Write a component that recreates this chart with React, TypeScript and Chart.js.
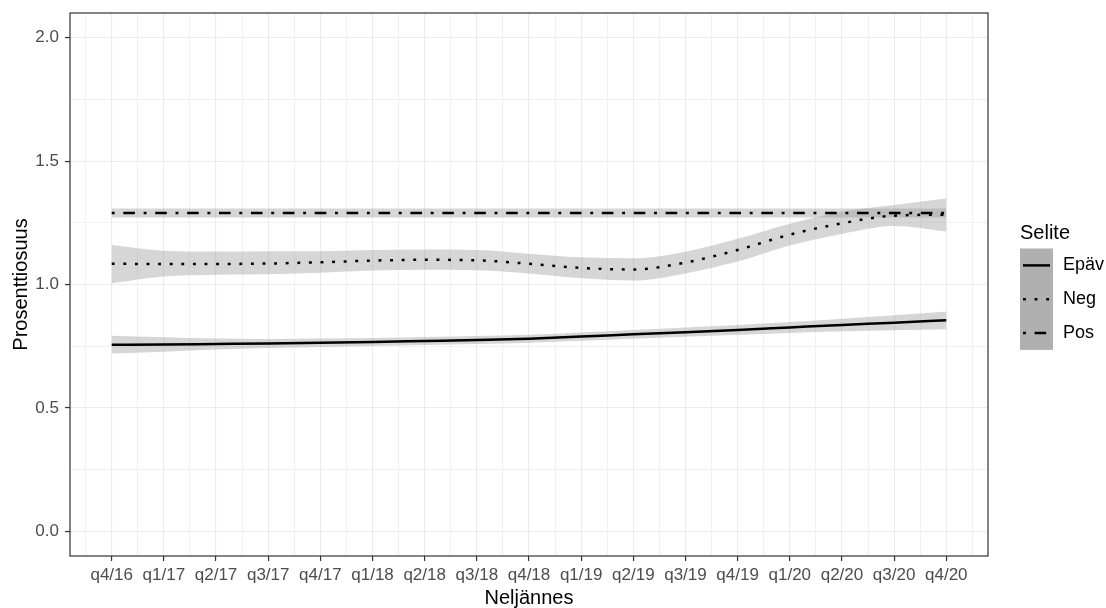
import React, { useEffect, useRef } from "react";
import { Chart, registerables } from "chart.js";

Chart.register(...registerables);

const categories = [
  "q4/16", "q1/17", "q2/17", "q3/17", "q4/17", "q1/18", "q2/18", "q3/18", "q4/18",
  "q1/19", "q2/19", "q3/19", "q4/19", "q1/20", "q2/20", "q3/20", "q4/20",
];

const epavMid = [0.756, 0.757, 0.759, 0.761, 0.764, 0.767, 0.771, 0.775, 0.780, 0.789, 0.798, 0.807, 0.816, 0.826, 0.836, 0.845, 0.855];
const epavLow = [0.720, 0.728, 0.737, 0.743, 0.747, 0.751, 0.755, 0.759, 0.764, 0.772, 0.780, 0.788, 0.796, 0.804, 0.811, 0.815, 0.819];
const epavHigh = [0.792, 0.786, 0.781, 0.779, 0.781, 0.783, 0.787, 0.791, 0.796, 0.806, 0.816, 0.826, 0.836, 0.848, 0.861, 0.875, 0.891];

const negMid = [1.084, 1.083, 1.083, 1.085, 1.090, 1.097, 1.100, 1.098, 1.084, 1.067, 1.061, 1.089, 1.140, 1.202, 1.248, 1.279, 1.283];
const negLow = [1.005, 1.032, 1.040, 1.042, 1.048, 1.057, 1.060, 1.058, 1.045, 1.025, 1.016, 1.045, 1.093, 1.158, 1.205, 1.237, 1.215];
const negHigh = [1.160, 1.137, 1.134, 1.135, 1.135, 1.140, 1.142, 1.140, 1.125, 1.110, 1.106, 1.133, 1.185, 1.246, 1.295, 1.322, 1.348];

const posMid = [1.290, 1.290, 1.290, 1.290, 1.290, 1.290, 1.290, 1.290, 1.290, 1.290, 1.290, 1.290, 1.290, 1.290, 1.290, 1.290, 1.290];
const posLow = [1.271, 1.271, 1.271, 1.271, 1.271, 1.271, 1.271, 1.271, 1.271, 1.271, 1.271, 1.271, 1.271, 1.271, 1.271, 1.271, 1.271];
const posHigh = [1.308, 1.308, 1.308, 1.308, 1.308, 1.308, 1.308, 1.308, 1.308, 1.308, 1.308, 1.308, 1.308, 1.308, 1.308, 1.308, 1.308];

const yTickValues = [0, 0.25, 0.5, 0.75, 1, 1.25, 1.5, 1.75, 2];
const seriesNames = ["Epäv", "Neg", "Pos"];
const xTitle = "Neljännes";
const yTitle = "Prosenttiosuus";
const legendTitle = "Selite";

const FONT = "'Liberation Sans', Arial, sans-serif";
const RIBBON = "rgba(153,153,153,0.4)";
const DOTTED = [2.9, 8.7];
const DOTDASH = [2.9, 8.7, 11.6, 8.7];
const LW = 2.5;

const toPts = (arr: number[]) => arr.map((y, i) => ({ x: i, y }));

const decorPlugin = {
  id: "decor",
  afterDraw(chart: any) {
    const { ctx, chartArea: a } = chart;
    ctx.save();
    // panel border
    ctx.strokeStyle = "#333333";
    ctx.lineWidth = 1.2;
    ctx.strokeRect(a.left, a.top, a.right - a.left, a.bottom - a.top);

    // axis titles
    ctx.fillStyle = "#000000";
    ctx.font = `20px ${FONT}`;
    ctx.textAlign = "center";
    ctx.textBaseline = "alphabetic";
    ctx.fillText(xTitle, (a.left + a.right) / 2, 604);
    ctx.save();
    ctx.translate(27, (a.top + a.bottom) / 2);
    ctx.rotate(-Math.PI / 2);
    ctx.fillText(yTitle, 0, 0);
    ctx.restore();

    // legend
    const lx = 1020;
    ctx.textAlign = "left";
    ctx.font = `20px ${FONT}`;
    ctx.fillText(legendTitle, lx, 239);
    const keyTop = 248.5;
    const keyH = 33.8;
    const keyW = 33;
    ctx.fillStyle = "#b0b0b0";
    ctx.fillRect(lx, keyTop, keyW, keyH * 3);
    const dashes = [[], DOTTED, DOTDASH];
    ctx.font = `18px ${FONT}`;
    ctx.textBaseline = "middle";
    seriesNames.forEach((name, i) => {
      const cy = keyTop + keyH * (i + 0.5);
      ctx.strokeStyle = "#000000";
      ctx.lineWidth = LW;
      ctx.lineCap = "butt";
      ctx.setLineDash(dashes[i]);
      ctx.beginPath();
      ctx.moveTo(lx + 3, cy);
      ctx.lineTo(lx + 30, cy);
      ctx.stroke();
      ctx.setLineDash([]);
      ctx.fillStyle = "#000000";
      ctx.fillText(name, lx + 43, cy);
    });
    ctx.restore();
  },
};

export default function App() {
  const ref = useRef<HTMLCanvasElement | null>(null);

  useEffect(() => {
    if (!ref.current) return;
    const ribbon = (low: number[], high: number[]) => [
      {
        data: toPts(low),
        borderWidth: 0,
        borderColor: "rgba(0,0,0,0)",
        pointRadius: 0,
        fill: false,
      },
      {
        data: toPts(high),
        borderWidth: 0,
        borderColor: "rgba(0,0,0,0)",
        backgroundColor: RIBBON,
        pointRadius: 0,
        fill: "-1",
      },
    ];
    const line = (mid: number[], dash: number[]) => ({
      data: toPts(mid),
      borderColor: "#000000",
      borderWidth: LW,
      borderDash: dash,
      borderCapStyle: "butt",
      pointRadius: 0,
      fill: false,
    });

    const chart = new Chart(ref.current, {
      type: "line",
      data: {
        datasets: [
          ...ribbon(epavLow, epavHigh),
          ...ribbon(negLow, negHigh),
          ...ribbon(posLow, posHigh),
          line(epavMid, []),
          line(negMid, DOTTED),
          line(posMid, DOTDASH),
        ] as any,
      },
      options: {
        animation: false,
        responsive: false,
        maintainAspectRatio: false,
        layout: { padding: { left: 0, top: 13, right: 118, bottom: 0 } },
        plugins: {
          legend: { display: false },
          tooltip: { enabled: false },
          filler: { drawTime: "beforeDatasetsDraw" },
        },
        elements: { line: { cubicInterpolationMode: "monotone" } },
        scales: {
          x: {
            type: "linear",
            min: -0.8,
            max: 16.8,
            border: { display: false },
            afterFit: (s: any) => {
              s.height = 52;
              s.paddingLeft = 0;
              s.paddingRight = 0;
            },
            afterBuildTicks: (s: any) => {
              const t = [];
              for (let v = -0.5; v <= 16.5; v += 0.5) t.push({ value: v });
              s.ticks = t;
            },
            grid: {
              color: (c: any) => (Number.isInteger(c.tick?.value) ? "#ebebeb" : "#efefef"),
              lineWidth: (c: any) => (Number.isInteger(c.tick?.value) ? 1.1 : 0.9),
              tickLength: 5,
              tickColor: (c: any) => (Number.isInteger(c.tick?.value) ? "#333333" : "rgba(0,0,0,0)"),
              tickWidth: 1.2,
            },
            ticks: {
              autoSkip: false,
              maxRotation: 0,
              minRotation: 0,
              padding: 4,
              color: "#4d4d4d",
              font: { family: FONT, size: 17 },
              callback: (v: any) => {
                const n = Number(v);
                return Number.isInteger(n) && n >= 0 && n < categories.length ? categories[n] : "";
              },
            },
          },
          y: {
            type: "linear",
            min: -0.1,
            max: 2.1,
            border: { display: false },
            afterFit: (s: any) => {
              s.width = 70;
              s.paddingTop = 0;
              s.paddingBottom = 0;
            },
            afterBuildTicks: (s: any) => {
              s.ticks = yTickValues.map((v) => ({ value: v }));
            },
            grid: {
              color: (c: any) => ((c.tick?.value ?? 0) % 0.5 === 0 ? "#ebebeb" : "#efefef"),
              lineWidth: (c: any) => ((c.tick?.value ?? 0) % 0.5 === 0 ? 1.1 : 0.9),
              tickLength: 5,
              tickColor: (c: any) => ((c.tick?.value ?? 0) % 0.5 === 0 ? "#333333" : "rgba(0,0,0,0)"),
              tickWidth: 1.2,
            },
            ticks: {
              autoSkip: false,
              padding: 6,
              color: "#4d4d4d",
              font: { family: FONT, size: 17 },
              callback: (v: any) => {
                const n = Number(v);
                return n % 0.5 === 0 ? n.toFixed(1) : "";
              },
            },
          },
        },
      } as any,
      plugins: [decorPlugin],
    });
    return () => chart.destroy();
  }, []);

  return (
    <div style={{ position: "fixed", left: 0, top: 0, width: 1106, height: 608, background: "#ffffff" }}>
      <canvas ref={ref} width={1106} height={608} style={{ display: "block", width: 1106, height: 608 }} />
    </div>
  );
}
